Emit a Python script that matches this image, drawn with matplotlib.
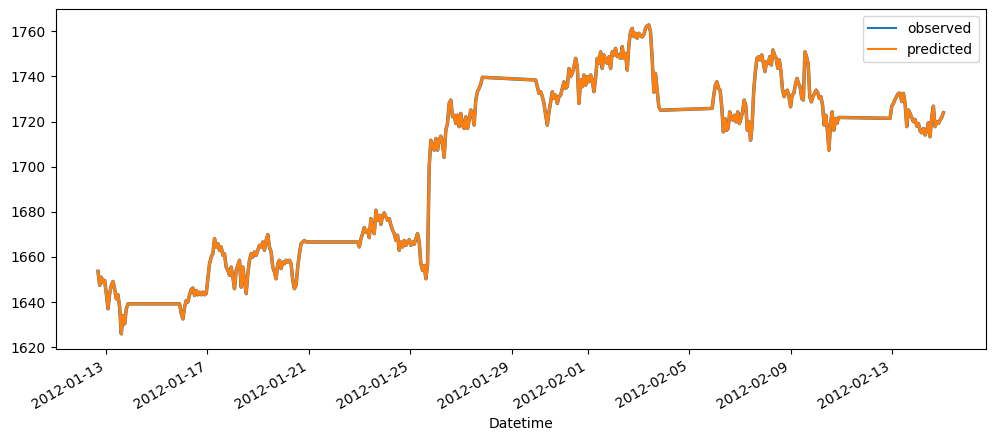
import numpy as np
import pandas as pd
import matplotlib
matplotlib.use('Agg')
import matplotlib.pyplot as plt

# trading sessions (weekend gaps between them), prices
session_starts = ['2012-01-12 16:24', '2012-01-15 21:36', '2012-01-22 22:06',
                  '2012-01-29 22:36', '2012-02-05 21:36', '2012-02-12 22:00']
session_ends = ['2012-01-13 22:20', '2012-01-20 21:18', '2012-01-27 20:12',
                '2012-02-03 20:42', '2012-02-10 21:12', '2012-02-15 00:24']

s1 = [1653.6, 1647.4, 1651.0, 1648.8, 1649.6, 1643.7, 1637.0, 1643.7, 1647.4, 1649.1,
      1645.9, 1641.4, 1643.2, 1637.7, 1625.9, 1634.0, 1630.3, 1637.0, 1639.2, 1639.2]

s2 = [1639.2, 1634.8, 1632.5, 1637.7, 1640.7, 1640.0, 1643.2, 1645.6, 1646.2, 1642.9,
      1645.1, 1643.2, 1644.4, 1643.2, 1644.4, 1643.2, 1643.7, 1650.3, 1657.0,
      1659.9, 1661.4, 1668.1, 1664.4, 1665.9, 1662.9, 1664.4, 1660.7, 1661.4, 1655.5,
      1654.0, 1651.8, 1655.5, 1651.1, 1645.9, 1654.0, 1656.2, 1658.5, 1646.6, 1655.5,
      1649.6, 1643.7, 1652.5, 1658.5, 1661.4, 1659.9, 1662.2, 1660.7, 1662.9, 1665.1,
      1664.4, 1666.6, 1662.9, 1667.3, 1669.9, 1664.4, 1662.2, 1655.5, 1653.3, 1650.3,
      1657.0, 1658.5, 1654.8, 1657.7, 1657.0, 1658.5, 1657.7, 1658.5, 1657.0, 1649.6,
      1645.9, 1647.4, 1655.5, 1661.4, 1665.9, 1666.6, 1667.3, 1666.6]

s3 = [1666.6, 1664.4, 1668.1, 1670.3, 1673.0, 1671.0, 1671.8, 1668.5, 1677.0, 1672.5,
      1670.3, 1680.7, 1676.2, 1678.4, 1674.4, 1678.4, 1679.5, 1677.7, 1676.2, 1677.0,
      1674.0, 1671.8, 1670.3, 1667.3, 1669.6, 1662.9, 1666.6, 1664.4, 1667.3, 1665.1,
      1666.6, 1667.6, 1665.1, 1666.6, 1665.6, 1668.1, 1670.3, 1666.6, 1657.0, 1654.0,
      1656.2, 1650.3, 1656.2, 1700.0,
      1711.7, 1709.5, 1707.3, 1712.5, 1707.3, 1711.7, 1713.5, 1710.3, 1704.1, 1716.2,
      1719.1, 1728.0, 1729.5, 1722.1, 1722.8, 1719.1, 1722.8, 1717.7, 1723.6, 1718.4,
      1716.9, 1722.1, 1716.9, 1720.6, 1725.1, 1723.6, 1718.4, 1729.5, 1733.2, 1734.7,
      1736.6, 1739.6]

s4 = [1738.4, 1735.4, 1732.4, 1733.2, 1731.0, 1728.0, 1722.8, 1718.4, 1724.3, 1728.8,
      1733.2, 1730.2, 1731.7, 1728.0, 1731.0, 1731.7, 1734.7, 1737.6, 1734.7, 1735.4,
      1743.5, 1739.9, 1741.3, 1744.3, 1748.0, 1744.3, 1728.0, 1738.4, 1735.4, 1740.6,
      1736.1, 1739.9, 1737.6, 1740.6, 1738.4, 1733.2, 1739.1, 1748.0, 1745.8, 1750.9,
      1743.5, 1749.5, 1747.2, 1745.8, 1748.7, 1743.5, 1750.9, 1749.5, 1752.4, 1748.7,
      1749.5, 1748.0, 1753.2, 1748.0, 1750.2, 1742.8, 1753.9, 1759.8, 1761.3, 1757.6,
      1759.1, 1756.9, 1759.1, 1758.0, 1757.5, 1758.5, 1761.3, 1762.4, 1762.8, 1759.8,
      1748.0, 1733.0, 1741.3, 1733.9, 1726.5, 1725.0]

s5 = [1725.8, 1731.7, 1736.1, 1737.6, 1734.7, 1733.9, 1726.5, 1715.4, 1721.3, 1716.1,
      1716.9, 1724.3, 1721.3, 1720.6, 1722.8, 1719.8, 1724.3, 1719.1, 1721.3, 1724.3,
      1729.5, 1727.2, 1716.1, 1719.8, 1711.7, 1718.4, 1733.9, 1742.1, 1748.0,
      1748.7, 1747.3, 1749.5, 1745.8, 1742.1, 1746.5, 1745.8, 1748.7, 1745.0, 1751.7,
      1749.5, 1748.0, 1743.6, 1747.3, 1742.1, 1733.9, 1731.0, 1733.2, 1733.9, 1731.0,
      1726.5, 1731.7, 1732.4, 1736.1, 1739.1, 1736.9, 1735.4, 1730.2, 1729.5, 1750.9,
      1748.7, 1745.8, 1731.0, 1728.7, 1731.0, 1732.4, 1733.9, 1732.7, 1730.2, 1731.0,
      1727.2, 1718.4, 1722.8, 1716.1, 1707.3, 1719.1, 1724.3, 1716.1, 1721.3, 1719.1,
      1721.8]

s6 = [1721.4, 1726.8, 1728.0, 1729.8, 1731.3, 1732.5, 1732.5, 1728.8, 1732.5, 1728.0,
      1717.7, 1725.1, 1723.6, 1721.8, 1719.9, 1720.9, 1718.0, 1719.1, 1715.9, 1715.0,
      1716.9, 1714.0, 1716.1, 1719.4, 1713.2, 1722.1, 1726.8, 1717.7, 1719.9, 1719.1,
      1720.6, 1721.8, 1723.9]

sessions = [s1, s2, s3, s4, s5, s6]

# build the series: each session sampled on an even time grid
parts = []
for start, end, vals in zip(session_starts, session_ends, sessions):
    idx = pd.date_range(start, end, periods=len(vals))
    parts.append(pd.Series(vals, index=idx))
observed = pd.concat(parts)
observed.index.name = 'Datetime'
predicted = observed.copy()

fig, ax = plt.subplots(figsize=(9.95, 4.41), dpi=100)

# thicker strokes stand in for the minute-level jitter of the original
ax.plot(observed.index, observed.values, color='#1f77b4', lw=2.5, label='observed')
ax.plot(predicted.index, predicted.values, color='#ff7f0e', lw=2.1, label='predicted')

ax.set_xlabel('Datetime')
leg = ax.legend(loc='upper right')
for line in leg.get_lines():
    line.set_linewidth(1.5)
fig.autofmt_xdate()
fig.subplots_adjust(left=0.056, right=0.9906, bottom=0.208, top=0.9785)

plt.savefig('out.png', dpi=100)
